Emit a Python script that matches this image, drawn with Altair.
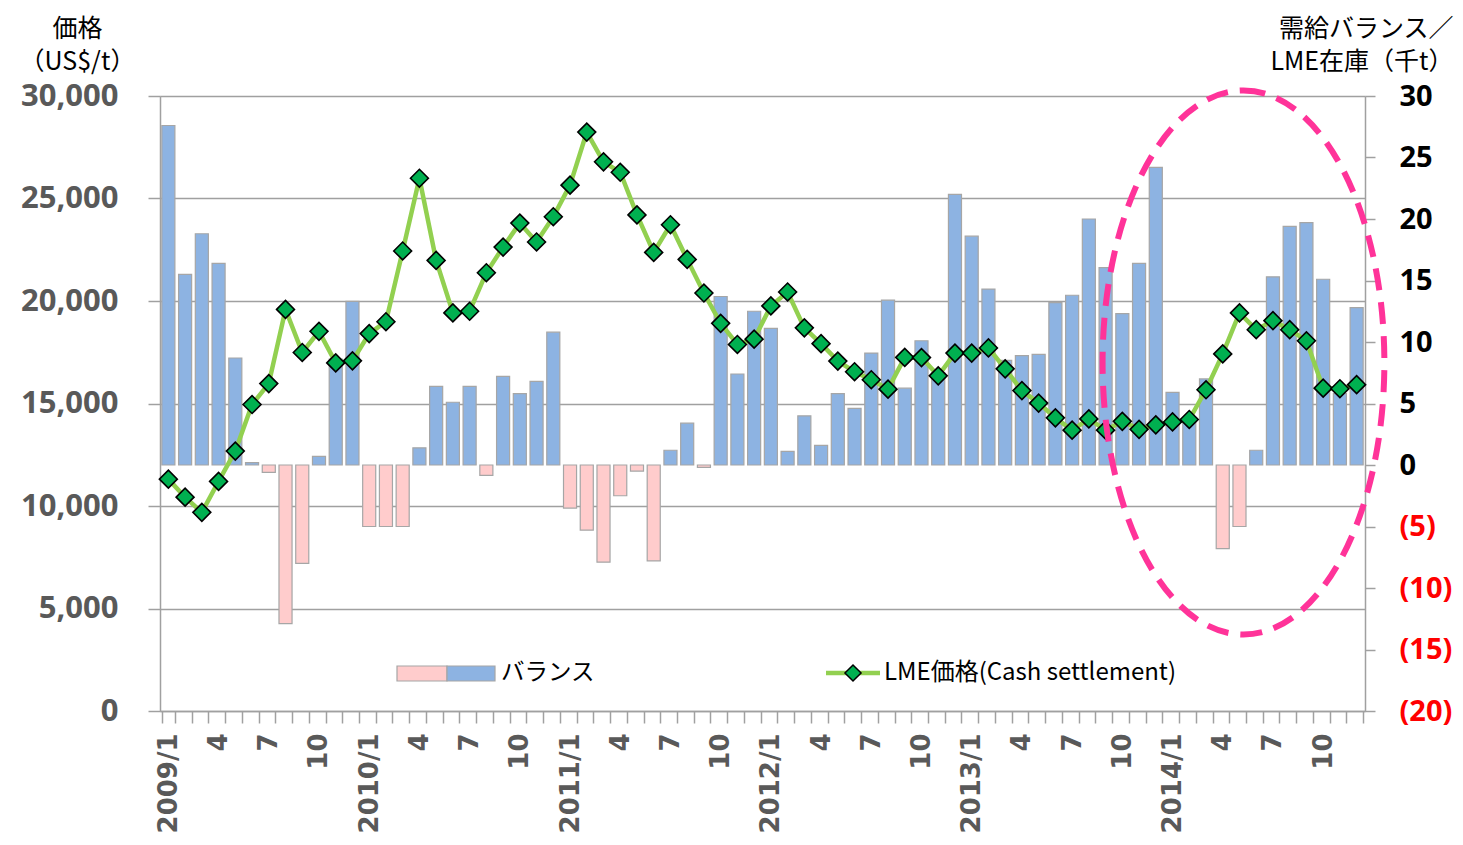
import altair as alt
import pandas as pd

# ---- data ----
MONTHS = [f"{y}/{m}" for y in range(2009, 2015) for m in range(1, 13)]

# 需給バランス (千t)
BALANCE = [
    27.6, 15.5, 18.8, 16.4, 8.7, 0.2, -0.6, -12.9, -8.0, 0.7, 8.6, 13.3,
    -5.0, -5.0, -5.0, 1.4, 6.4, 5.1, 6.4, -0.85, 7.2, 5.8, 6.8, 10.8,
    -3.5, -5.3, -7.9, -2.5, -0.5, -7.8, 1.2, 3.4, -0.2, 13.7, 7.4, 12.5,
    11.1, 1.1, 4.0, 1.6, 5.8, 4.6, 9.1, 13.4, 6.25, 10.1, 7.5, 22.0,
    18.6, 14.3, 8.5, 8.9, 9.0, 13.2, 13.8, 20.0, 16.05, 12.3, 16.4, 24.2,
    5.9, 3.6, 7.0, -6.8, -5.0, 1.2, 15.3, 19.4, 19.7, 15.1, 5.8, 12.8,
]

# LME価格 (US$/t)
PRICE = [
    11310, 10430, 9690, 11200, 12680, 14950, 15970, 19590, 17490, 18520, 16980, 17080,
    18410, 18990, 22440, 25990, 21980, 19420, 19500, 21380, 22630, 23800, 22880, 24110,
    25650, 28240, 26790, 26280, 24200, 22370, 23720, 22030, 20390, 18910, 17880, 18140,
    19760, 20440, 18690, 17920, 17070, 16550, 16160, 15700, 17250, 17240, 16350, 17460,
    17460, 17710, 16690, 15630, 15020, 14300, 13700, 14250, 13700, 14130, 13740, 13960,
    14100, 14220, 15670, 17420, 19420, 18600, 19040, 18600, 18060, 15750, 15720, 15920,
]

LEFT_TICKS = [0, 5000, 10000, 15000, 20000, 25000, 30000]
RIGHT_TICKS = [-20, -15, -10, -5, 0, 5, 10, 15, 20, 25, 30]
LEFT_TITLE = ["価格", "（US$/t）"]
RIGHT_TITLE = ["需給バランス／", "LME在庫（千t）"]
LEGEND_BAR = ["バランス"]
LEGEND_LINE = ["LME価格(Cash settlement)"]

# highlighted region (dashed ellipse annotation)
HIGHLIGHT_MONTH = ["2014/5"]
HIGHLIGHT_PRICE = [17000]

df = pd.DataFrame({"month": MONTHS, "balance": BALANCE, "price": PRICE})
hl = pd.DataFrame({"month": HIGHLIGHT_MONTH, "price": HIGHLIGHT_PRICE})

GRAY = "#A0A0A0"
BLUE = "#8DB3E2"
PINK = "#FFCCCC"
BAR_STROKE = "#A6A6A6"
LINE_GREEN = "#92D050"
DIAMOND = "#00B050"

x_label_expr = (
    "split(datum.value,'/')[1] == '1' ? datum.value : "
    "(indexof(['4','7','10'], split(datum.value,'/')[1]) >= 0 ? split(datum.value,'/')[1] : '')"
)

X = alt.X(
    "month:O",
    scale=alt.Scale(domain=MONTHS, paddingInner=0.22, paddingOuter=0.11),
    axis=alt.Axis(
        title="",
        labelExpr=x_label_expr,
        labelAngle=270,
        labelAlign="right",
        labelBaseline="middle",
        labelFont="DejaVu Sans",
        labelFontWeight="bold",
        labelFontSize=26,
        labelColor="#595959",
        labelPadding=10,
        labelOverlap=False,
        tickBand="extent",
        tickSize=12,
        tickColor=GRAY,
        tickWidth=1.5,
        domainColor=GRAY,
        domainWidth=1.5,
        grid=False,
    ),
)

Y_PRICE = alt.Y(
    "price:Q",
    scale=alt.Scale(domain=[0, 30000], nice=False),
    axis=alt.Axis(
        orient="left",
        values=LEFT_TICKS,
        labelExpr="format(datum.value, ',.0f')",
        labelFont="Noto Sans",
        labelFontWeight="bold",
        labelFontSize=31,
        labelColor="#595959",
        labelPadding=30,
        labelOverlap=False,
        tickSize=12,
        tickColor=GRAY,
        tickWidth=1.5,
        domainColor=GRAY,
        domainWidth=1.5,
        grid=True,
        gridColor=GRAY,
        gridWidth=1.5,
        title=LEFT_TITLE,
        titleAngle=0,
        titleX=-83,
        titleY=-60,
        titleAlign="center",
        titleBaseline="alphabetic",
        titleFont="Noto Sans CJK JP",
        titleFontSize=25,
        titleFontWeight="normal",
        titleColor="#000000",
        titleLineHeight=33,
    ),
)

Y_BAL = alt.Y(
    "balance:Q",
    scale=alt.Scale(domain=[-20, 30], nice=False, zero=False),
    axis=alt.Axis(
        orient="right",
        values=RIGHT_TICKS,
        labelExpr="datum.value < 0 ? '(' + (-datum.value) + ')' : '' + datum.value",
        labelColor={"condition": {"test": "datum.value < 0", "value": "#FF0000"}, "value": "#000000"},
        labelFont="Noto Sans",
        labelFontWeight="bold",
        labelFontSize=29,
        labelPadding=24,
        labelOverlap=False,
        tickSize=10,
        tickColor=GRAY,
        tickWidth=1.5,
        domainColor=GRAY,
        domainWidth=1.5,
        grid=False,
        title=RIGHT_TITLE,
        titleAngle=0,
        titleX=88,
        titleY=-60,
        titleAlign="right",
        titleBaseline="alphabetic",
        titleFont="Noto Sans CJK JP",
        titleFontSize=25,
        titleFontWeight="normal",
        titleColor="#000000",
        titleLineHeight=33,
    ),
)

bars = alt.Chart(df).mark_bar(stroke=BAR_STROKE, strokeWidth=1.2).encode(
    x=X,
    y=Y_BAL,
    y2=alt.datum(0),
    fill=alt.condition("datum.balance < 0", alt.value(PINK), alt.value(BLUE)),
)

# manual legend
leg_bar_df = pd.DataFrame({"t": LEGEND_BAR})
leg_line_df = pd.DataFrame({"t": LEGEND_LINE})

leg_pink = alt.Chart(leg_bar_df).mark_rect(fill=PINK, stroke=BAR_STROKE, strokeWidth=1.2).encode(
    x=alt.value(237), x2=alt.value(287), y=alt.value(570), y2=alt.value(585)
)
leg_blue = alt.Chart(leg_bar_df).mark_rect(fill=BLUE, stroke=BAR_STROKE, strokeWidth=1.2).encode(
    x=alt.value(287), x2=alt.value(335), y=alt.value(570), y2=alt.value(585)
)
leg_bar_text = alt.Chart(leg_bar_df).mark_text(
    align="left", baseline="middle", font="Noto Sans CJK JP", fontSize=23.5, color="#000000"
).encode(x=alt.value(341), y=alt.value(577), text="t:N")

leg_line = alt.Chart(leg_line_df).mark_rule(color=LINE_GREEN, strokeWidth=4.5).encode(
    x=alt.value(666), x2=alt.value(720), y=alt.value(577)
)
leg_diamond = alt.Chart(leg_line_df).mark_point(
    shape="diamond", filled=True, fill=DIAMOND, stroke="#000000", strokeWidth=1.5, size=260, opacity=1
).encode(x=alt.value(693), y=alt.value(577))
leg_line_text = alt.Chart(leg_line_df).mark_text(
    align="left", baseline="middle", font="Noto Sans CJK JP", fontSize=24, color="#000000"
).encode(x=alt.value(724), y=alt.value(577), text="t:N")

right_layer = alt.layer(bars, leg_pink, leg_blue, leg_bar_text, leg_line, leg_diamond, leg_line_text)

line = alt.Chart(df).mark_line(color=LINE_GREEN, strokeWidth=4.5).encode(x=X, y=Y_PRICE)
points = alt.Chart(df).mark_point(
    shape="diamond", filled=True, fill=DIAMOND, stroke="#000000", strokeWidth=1.6, size=320, opacity=1
).encode(x=X, y=Y_PRICE)

ELLIPSE_PATH = "M0,-1 A0.518,1 0 1,1 0,1 A0.518,1 0 1,1 0,-1 Z"
ellipse = alt.Chart(hl).mark_point(
    shape=ELLIPSE_PATH,
    size=544 * 544,
    filled=False,
    stroke="#FF3399",
    strokeWidth=6,
    strokeDash=[22, 12],
    xOffset=4,
    opacity=1,
).encode(x=X, y=Y_PRICE)

left_layer = alt.layer(line, points, ellipse)

chart = (
    alt.layer(right_layer, left_layer)
    .resolve_scale(y="independent")
    .properties(
        width=1205,
        height=615,
        autosize=alt.AutoSizeParams(type="none"),
        padding={"left": 152, "top": 88, "right": 90, "bottom": 126},
    )
    .configure_view(stroke=None)
    .configure(background="white")
)

chart.save("out.html", embed_options={"renderer": "svg", "actions": False})
